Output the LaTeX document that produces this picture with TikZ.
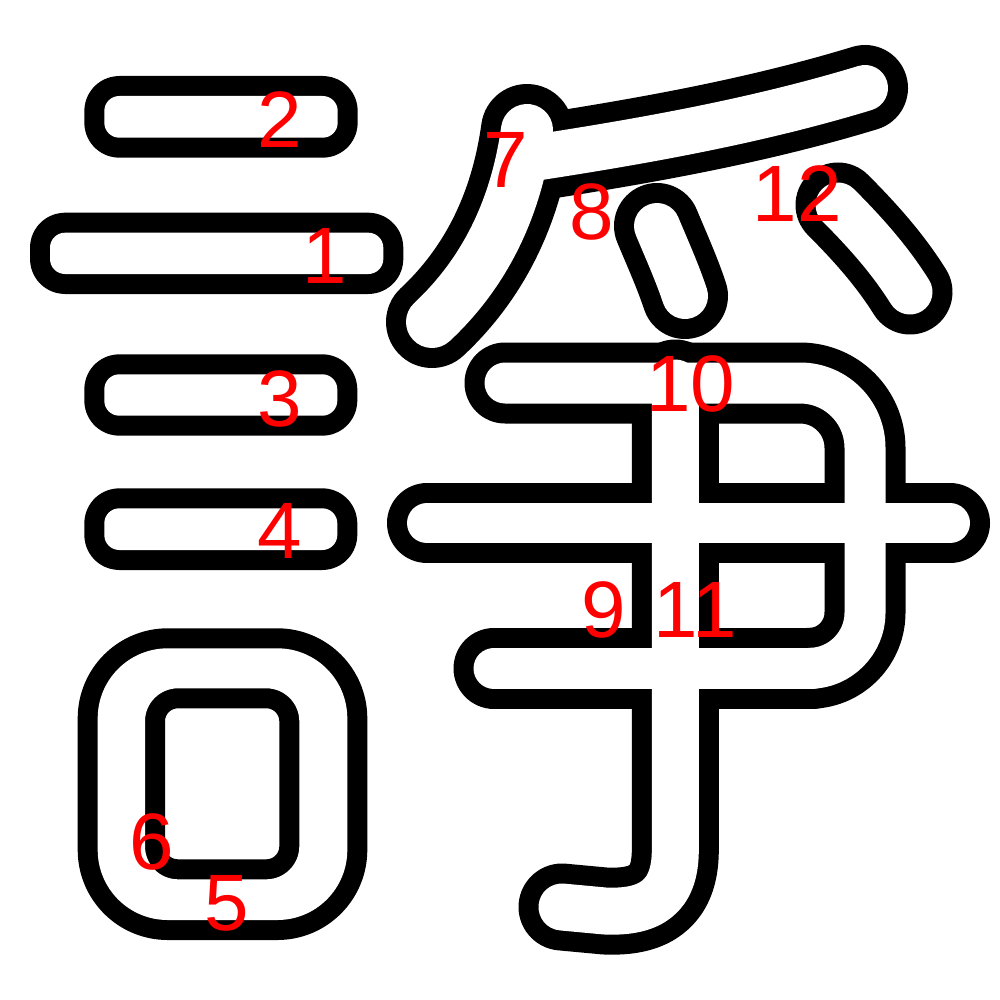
\documentclass[tikz,border=0pt]{standalone}
\usepackage{fontspec}
\newfontfamily\labfont{Liberation Sans}
\begin{document}
\begin{tikzpicture}[x=0.5pt,y=-0.5pt,
  blk/.style={draw=black,line cap=round,line join=round},
  wht/.style={draw=white,line cap=round,line join=round},
  barblk/.style={fill=black,draw=black,line width=20pt,line join=round,rounded corners=7.5pt},
  barwht/.style={fill=white,rounded corners=7.5pt},
  lab/.style={text=red,font=\labfont\fontsize{40pt}{40pt}\selectfont,inner sep=0pt}]
\fill[white] (0,0) rectangle (1000,1000);
\useasboundingbox (0,0) rectangle (1000,1000);
% stroke geometry
\def\zzBarOne{(50,232.7) rectangle (383.3,274)}
\def\zzBarTwo{(104.3,96) rectangle (337.7,137.7)}
\def\zzBarThree{(104.3,374.3) rectangle (337.3,415.7)}
\def\zzBarFour{(104.3,508.3) rectangle (337.3,550)}
\def\zzMouth{[rounded corners=35pt] (97.7,648.3) rectangle (347.3,920) [rounded corners=16.5pt] (145,688.3) rectangle (299.3,879.3)}
\def\zzSeven{(527,130) .. controls (518,195) and (493,265) .. (432,322)}
\def\zzTop{(540,157) .. controls (650,140) and (760,120) .. (865,88)}
\def\zzEight{(657,226) .. controls (667,250) and (677,272) .. (685,296)}
\def\zzTwelve{(838,205) .. controls (865,232) and (890,260) .. (910,292)}
\def\zzTen{(505,383) -- (800,383) .. controls (836,383) and (865,412) .. (865,448) -- (865,613) .. controls (865,643) and (840,668.3) .. (810,668.3)}
\def\zzMid{(427,523.3) -- (950,523.3)}
\def\zzLow{(494,668.3) -- (812,668.3)}
\def\zzHook{(675.3,383) -- (675.3,850) .. controls (675.3,897) and (650,913) .. (605,911) -- (562,907)}
% pass 1: black outlines
\path[barblk] \zzBarOne;
\path[barblk] \zzBarTwo;
\path[barblk] \zzBarThree;
\path[barblk] \zzBarFour;
\path[fill=black,draw=black,even odd rule,line width=20pt,line join=round] \zzMouth;
\draw[blk,line width=46pt] \zzSeven;
\draw[blk,line width=43pt] \zzTop;
\draw[blk,line width=43pt] \zzEight;
\draw[blk,line width=42.5pt] \zzTwelve;
\draw[blk,line width=40.5pt] \zzTen;
\draw[blk,line width=40pt] \zzMid;
\draw[blk,line width=40.5pt] \zzLow;
\draw[blk,line width=43.5pt] \zzHook;
% pass 2: white interiors
\path[barwht] \zzBarOne;
\path[barwht] \zzBarTwo;
\path[barwht] \zzBarThree;
\path[barwht] \zzBarFour;
\path[fill=white,even odd rule] \zzMouth;
\draw[wht,line width=26pt] \zzSeven;
\draw[wht,line width=23pt] \zzTop;
\draw[wht,line width=23pt] \zzEight;
\draw[wht,line width=22.5pt] \zzTwelve;
\draw[wht,line width=20.5pt] \zzTen;
\draw[wht,line width=20pt] \zzMid;
\draw[wht,line width=20.5pt] \zzLow;
\draw[wht,line width=23.5pt] \zzHook;
% stroke numbers
\node[lab] (n1) at (325,256) {1};
\node[lab] (n2) at (280,120) {2};
\node[lab] (n3) at (280,399) {3};
\node[lab] (n4) at (280,531) {4};
\node[lab] (n5) at (227,903) {5};
\node[lab] (n6) at (152,842) {6};
\node[lab] (n7) at (506,160) {7};
\node[lab] (n8) at (592,212) {8};
\node[lab] (n9) at (604,610) {9};
\node[lab] (n10) at (691,384) {10};
\node[lab] (n11) at (695,610) {11};
\node[lab] (n12) at (797,194) {12};
\end{tikzpicture}
\end{document}
